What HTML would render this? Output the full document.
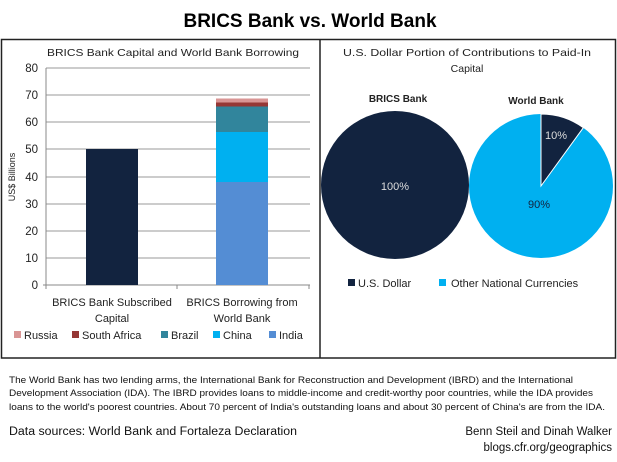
<!DOCTYPE html>
<html><head><meta charset="utf-8"><style>
html,body{margin:0;padding:0;background:#fff}
svg{display:block}
text{font-family:"Liberation Sans",sans-serif}
</style></head><body>
<svg width="617" height="462" viewBox="0 0 617 462" xmlns="http://www.w3.org/2000/svg">
<text x="310" y="27" text-anchor="middle" font-size="19" font-weight="bold" fill="#000">BRICS Bank vs. World Bank</text>
<rect x="1.5" y="39.5" width="614" height="318.5" fill="none" stroke="#222" stroke-width="1.5"/>
<line x1="320" y1="39" x2="320" y2="358" stroke="#222" stroke-width="1.5"/>
<text x="173" y="56" text-anchor="middle" font-size="10.5" fill="#222" textLength="252" lengthAdjust="spacingAndGlyphs">BRICS Bank Capital and World Bank Borrowing</text>
<g stroke="#999" stroke-width="1">
<line x1="46" y1="68" x2="310" y2="68"/><line x1="46" y1="95" x2="310" y2="95"/><line x1="46" y1="122" x2="310" y2="122"/><line x1="46" y1="149" x2="310" y2="149"/><line x1="46" y1="177" x2="310" y2="177"/><line x1="46" y1="204" x2="310" y2="204"/><line x1="46" y1="231" x2="310" y2="231"/><line x1="46" y1="258" x2="310" y2="258"/>
</g>
<line x1="46" y1="68" x2="46" y2="289" stroke="#888"/>
<line x1="43" y1="285" x2="310" y2="285" stroke="#888"/>
<line x1="177" y1="285" x2="177" y2="289" stroke="#888"/><line x1="309" y1="285" x2="309" y2="289" stroke="#888"/>
<g font-size="11.5" fill="#222" text-anchor="end">
<text x="38" y="72">80</text><text x="38" y="99">70</text><text x="38" y="126">60</text><text x="38" y="153">50</text><text x="38" y="181">40</text><text x="38" y="208">30</text><text x="38" y="235">20</text><text x="38" y="262">10</text><text x="38" y="289">0</text>
</g>
<text transform="translate(15,177) rotate(-90)" text-anchor="middle" font-size="9" fill="#222">US$ Billions</text>
<rect x="86" y="149" width="52" height="136" fill="#12233f"/>
<rect x="216" y="182" width="52" height="103" fill="#548dd4"/>
<rect x="216" y="132" width="52" height="50" fill="#00b0f0"/>
<rect x="216" y="106.5" width="52" height="25.5" fill="#31859c"/>
<rect x="216" y="102.5" width="52" height="4" fill="#953735"/>
<rect x="216" y="98.5" width="52" height="4" fill="#d99594"/>
<g font-size="11" fill="#222" text-anchor="middle">
<text x="112" y="306">BRICS Bank Subscribed</text><text x="112" y="322">Capital</text>
<text x="242" y="306">BRICS Borrowing from</text><text x="242" y="322">World Bank</text>
</g>
<g font-size="11" fill="#222">
<rect x="14" y="331" width="7" height="7" fill="#d99594"/><text x="24" y="339">Russia</text>
<rect x="72" y="331" width="7" height="7" fill="#953735"/><text x="82" y="339">South Africa</text>
<rect x="161" y="331" width="7" height="7" fill="#31859c"/><text x="171" y="339">Brazil</text>
<rect x="213" y="331" width="7" height="7" fill="#00b0f0"/><text x="223" y="339">China</text>
<rect x="269" y="331" width="7" height="7" fill="#548dd4"/><text x="279" y="339">India</text>
</g>
<g font-size="10.5" fill="#222" text-anchor="middle">
<text x="467" y="56" textLength="248" lengthAdjust="spacingAndGlyphs">U.S. Dollar Portion of Contributions to Paid-In</text>
<text x="467" y="72">Capital</text>
</g>
<text x="398" y="102" text-anchor="middle" font-size="10" font-weight="bold" fill="#222">BRICS  Bank</text>
<text x="536" y="104" text-anchor="middle" font-size="10" font-weight="bold" fill="#222">World Bank</text>
<circle cx="395" cy="185" r="74" fill="#12233f"/>
<text x="395" y="190" text-anchor="middle" font-size="11" fill="#ddd">100%</text>
<circle cx="541" cy="186" r="72" fill="#00b0f0"/>
<path d="M541,186 L541,114 A72,72 0 0 1 583.3,127.7 Z" fill="#12233f" stroke="#fff" stroke-width="1"/>
<text x="545" y="139" font-size="11" fill="#ddd">10%</text>
<text x="539" y="208" text-anchor="middle" font-size="11" fill="#12233f">90%</text>
<g font-size="11" fill="#222">
<rect x="348" y="279" width="7" height="7" fill="#12233f"/><text x="358" y="287">U.S. Dollar</text>
<rect x="439" y="279" width="7" height="7" fill="#00b0f0"/><text x="451" y="287">Other National Currencies</text>
</g>
<g font-size="9.5" fill="#111">
<text x="9" y="383" textLength="564" lengthAdjust="spacingAndGlyphs">The World Bank has two lending arms, the International Bank for Reconstruction and Development (IBRD) and the International</text>
<text x="9" y="396" textLength="584" lengthAdjust="spacingAndGlyphs">Development Association (IDA). The IBRD provides loans to middle-income and credit-worthy poor countries, while the IDA provides</text>
<text x="9" y="410" textLength="596" lengthAdjust="spacingAndGlyphs">loans to the world's poorest countries. About 70 percent of India's outstanding loans and about 30 percent of China's are from the IDA.</text>
</g>
<text x="9" y="435" font-size="11.5" fill="#111" textLength="288" lengthAdjust="spacingAndGlyphs">Data sources: World Bank and Fortaleza Declaration</text>
<text x="612" y="435" text-anchor="end" font-size="11.5" fill="#111">Benn Steil and Dinah Walker</text>
<text x="612" y="451" text-anchor="end" font-size="11.5" fill="#111">blogs.cfr.org/geographics</text>
</svg>
</body></html>
